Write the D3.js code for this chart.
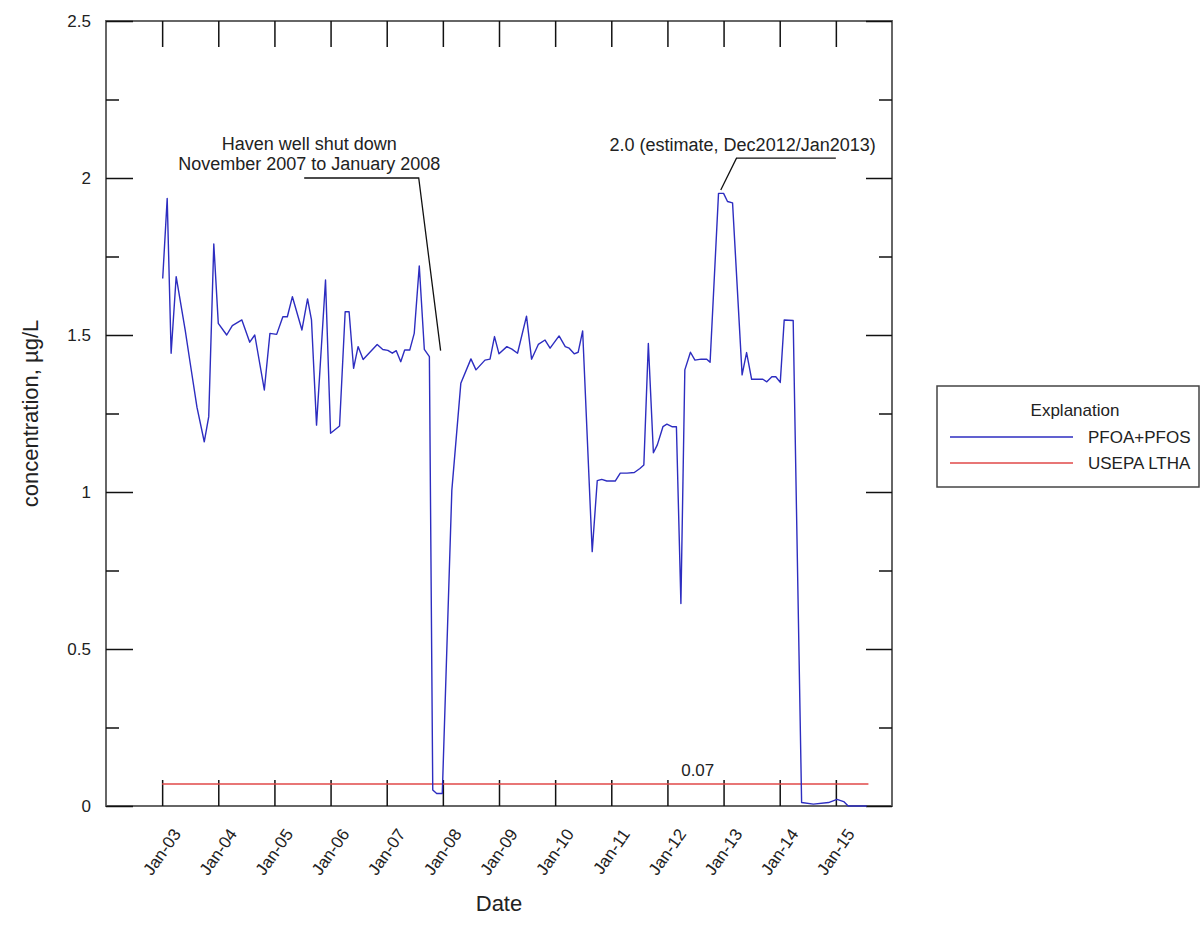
<!DOCTYPE html>
<html>
<head>
<meta charset="utf-8">
<script src="https://cdn.jsdelivr.net/npm/d3@7"></script>
<style>
  body { margin: 0; background: #fff; }
  text { font-family: "Liberation Sans", Arial, sans-serif; fill: #222; }
</style>
</head>
<body>
<div id="chart"></div>
<script>
// sample dates (decimal years) and PFOA+PFOS concentration, ug/L
const sampleYears = [
  2003.01, 2003.09, 2003.16, 2003.25, 2003.41, 2003.5, 2003.62, 2003.75, 2003.83, 2003.92,
  2004.0, 2004.15, 2004.25, 2004.42, 2004.56, 2004.65, 2004.82, 2004.92,
  2005.04, 2005.15, 2005.23, 2005.32, 2005.49, 2005.59, 2005.66, 2005.75, 2005.91,
  2006.0, 2006.16, 2006.26, 2006.33, 2006.41, 2006.49, 2006.58, 2006.83, 2006.93,
  2007.02, 2007.1, 2007.17, 2007.25, 2007.32, 2007.41, 2007.49, 2007.58, 2007.67, 2007.76,
  2007.82, 2007.89, 2007.99,
  2008.16, 2008.32, 2008.5, 2008.59, 2008.75, 2008.84, 2008.92,
  2009.0, 2009.14, 2009.23, 2009.33, 2009.49, 2009.58, 2009.7, 2009.82, 2009.91,
  2010.07, 2010.18, 2010.25, 2010.34, 2010.41, 2010.49, 2010.66, 2010.75, 2010.83, 2010.92,
  2011.07, 2011.16, 2011.28, 2011.41, 2011.51, 2011.58, 2011.66, 2011.75, 2011.82, 2011.92, 2011.99,
  2012.08, 2012.16, 2012.24, 2012.31, 2012.41, 2012.49, 2012.6, 2012.7, 2012.76, 2012.91,
  2013.0, 2013.07, 2013.16, 2013.33, 2013.41, 2013.5, 2013.62, 2013.7, 2013.77, 2013.86, 2013.93,
  2014.01, 2014.08, 2014.24, 2014.39, 2014.6, 2014.87,
  2015.02, 2015.14, 2015.22, 2015.55
]
const pfoaPfos = [
  1.68, 1.935, 1.442, 1.686, 1.516, 1.41, 1.27, 1.16, 1.24, 1.79,
  1.537, 1.50, 1.53, 1.548, 1.477, 1.50, 1.325, 1.505,
  1.502, 1.558, 1.558, 1.622, 1.516, 1.615, 1.548, 1.213, 1.675,
  1.187, 1.21, 1.574, 1.574, 1.394, 1.463, 1.422, 1.47, 1.454,
  1.451, 1.442, 1.45, 1.415, 1.452, 1.452, 1.505, 1.72, 1.454, 1.431,
  0.051, 0.04, 0.04,
  1.006, 1.346, 1.424, 1.389, 1.42, 1.423, 1.495,
  1.44, 1.463, 1.455, 1.442, 1.56, 1.423, 1.47, 1.484, 1.458,
  1.497, 1.463, 1.458, 1.44, 1.445, 1.513, 0.81, 1.036, 1.04, 1.035,
  1.035, 1.06, 1.06, 1.062, 1.075, 1.086, 1.473, 1.125, 1.15, 1.208, 1.216,
  1.208, 1.208, 0.645, 1.389, 1.445, 1.42, 1.423, 1.423, 1.413, 1.951,
  1.951, 1.925, 1.921, 1.373, 1.444, 1.359, 1.359, 1.359, 1.351, 1.367, 1.367,
  1.349, 1.548, 1.546, 0.011, 0.006, 0.011,
  0.021, 0.014, 0.0, 0.0
]

// USEPA lifetime health advisory
const lthaValue = 0.07
const lthaRange = [2003.0, 2015.58]

const xTickYears = [2003, 2004, 2005, 2006, 2007, 2008, 2009, 2010, 2011, 2012, 2013, 2014, 2015]
const xTickLabels = ["Jan-03", "Jan-04", "Jan-05", "Jan-06", "Jan-07", "Jan-08", "Jan-09",
                     "Jan-10", "Jan-11", "Jan-12", "Jan-13", "Jan-14", "Jan-15"]
const yMajorTicks = [0, 0.5, 1, 1.5, 2, 2.5]
const yMinorTicks = [0.25, 0.75, 1.25, 1.75, 2.25]

const legendLabels = ["PFOA+PFOS", "USEPA LTHA"]
const blue = "#2d2dc0", red = "#e04848"

// ----------------------------------------------------------

var margin = { top: 21, right: 309, bottom: 120, left: 106 },
    width = 1201 - margin.left - margin.right,
    height = 926 - margin.top - margin.bottom;

var svg = d3.select("#chart")
    .append("svg")
    .attr("width", 1201)
    .attr("height", 926)
    .append("g")
    .attr("transform", "translate(" + margin.left + "," + margin.top + ")");

var x = d3.scaleLinear().domain([2002, 2016]).range([0, width])
var y = d3.scaleLinear().domain([0, 2.5]).range([height, 0])

const data = sampleYears.map((t, i) => ({ t: t, v: pfoaPfos[i] }))

// frame
svg.append("rect")
    .attr("width", width).attr("height", height)
    .attr("fill", "none").attr("stroke", "#666").attr("stroke-width", 2)

function styleTicks(g) {
    g.select(".domain").remove()
    g.selectAll(".tick line").attr("stroke", "#111").attr("stroke-width", 1.5)
}

// y axes, ticks pointing inward
svg.append("g")
    .call(d3.axisLeft(y).tickValues(yMajorTicks).tickSize(-27).tickPadding(15).tickFormat(d3.format("")))
    .call(styleTicks)
    .selectAll("text").style("font-size", "17px").attr("fill", "#222")
svg.append("g")
    .call(d3.axisLeft(y).tickValues(yMinorTicks).tickSize(-13).tickFormat(""))
    .call(styleTicks)
svg.append("g").attr("transform", "translate(" + width + ",0)")
    .call(d3.axisRight(y).tickValues(yMajorTicks).tickSize(-26).tickFormat(""))
    .call(styleTicks)
svg.append("g").attr("transform", "translate(" + width + ",0)")
    .call(d3.axisRight(y).tickValues(yMinorTicks).tickSize(-13).tickFormat(""))
    .call(styleTicks)

// x axes
svg.append("g")
    .call(d3.axisTop(x).tickValues(xTickYears).tickSize(-26).tickFormat(""))
    .call(styleTicks)
var xAxisGroup = svg.append("g").attr("transform", "translate(0," + height + ")")
    .call(d3.axisBottom(x).tickValues(xTickYears).tickSize(-26)
        .tickFormat((d, i) => xTickLabels[i]))
    .call(styleTicks)
xAxisGroup.selectAll("text")
    .attr("x", 0).attr("y", 0).attr("dy", 0)
    .attr("text-anchor", "end")
    .attr("transform", "translate(19,28) rotate(-55)")
    .attr("fill", "#222")
    .style("font-size", "17px")

// axis titles
svg.append("text")
    .attr("text-anchor", "middle")
    .attr("x", width / 2).attr("y", height + 105)
    .style("font-size", "22px")
    .text("Date")
svg.append("text")
    .attr("text-anchor", "middle")
    .attr("transform", "translate(-68," + (height / 2) + ") rotate(-90)")
    .style("font-size", "22px")
    .text("concentration, µg/L")

// USEPA LTHA line
svg.append("line")
    .attr("x1", x(lthaRange[0])).attr("x2", x(lthaRange[1]))
    .attr("y1", y(lthaValue)).attr("y2", y(lthaValue))
    .attr("stroke", red).attr("stroke-width", 1.6)
svg.append("text")
    .attr("text-anchor", "middle")
    .attr("x", x(2012.54)).attr("y", y(lthaValue) - 8)
    .style("font-size", "17px")
    .text(lthaValue)

// PFOA+PFOS line
svg.append("path")
    .datum(data)
    .attr("fill", "none")
    .attr("stroke", blue)
    .attr("stroke-width", 1.4)
    .attr("stroke-linejoin", "round")
    .attr("d", d3.line().x(d => x(d.t)).y(d => y(d.v)))

// annotations
function leader(points) {
    svg.append("path")
        .attr("d", d3.line()(points))
        .attr("fill", "none").attr("stroke", "#111").attr("stroke-width", 1.3)
}
svg.append("text").attr("text-anchor", "middle")
    .attr("x", x(2005.62)).attr("y", y(2.09))
    .style("font-size", "18px")
    .selectAll("tspan").data(["Haven well shut down", "November 2007 to January 2008"])
    .enter().append("tspan")
    .attr("x", x(2005.62)).attr("dy", (d, i) => i ? 20 : 0)
    .text(d => d)
leader([[x(2005.53), y(2.0)], [x(2007.57), y(2.0)], [x(2007.96), y(1.45)]])

svg.append("text").attr("text-anchor", "middle")
    .attr("x", x(2013.34)).attr("y", y(2.085))
    .style("font-size", "18px")
    .text("2.0 (estimate, Dec2012/Jan2013)")
leader([[x(2015.0), y(2.063)], [x(2013.23), y(2.063)], [x(2012.95), y(1.962)]])

// legend
var legend = d3.select("svg").append("g").attr("transform", "translate(937,386)")
legend.append("rect")
    .attr("width", 262).attr("height", 101)
    .attr("fill", "#fff").attr("stroke", "#444").attr("stroke-width", 1.5)
legend.append("text")
    .attr("x", 138).attr("y", 30)
    .attr("text-anchor", "middle")
    .style("font-size", "17px")
    .text("Explanation")
legend.selectAll(".lg").data(legendLabels).enter().append("line")
    .attr("x1", 13).attr("x2", 136)
    .attr("y1", (d, i) => 51 + i * 26).attr("y2", (d, i) => 51 + i * 26)
    .attr("stroke", (d, i) => i ? red : blue).attr("stroke-width", 1.6)
legend.selectAll(".lt").data(legendLabels).enter().append("text")
    .attr("x", 151).attr("y", (d, i) => 51 + i * 26).attr("dy", "0.35em")
    .style("font-size", "17px")
    .text(d => d)
</script>
</body>
</html>
